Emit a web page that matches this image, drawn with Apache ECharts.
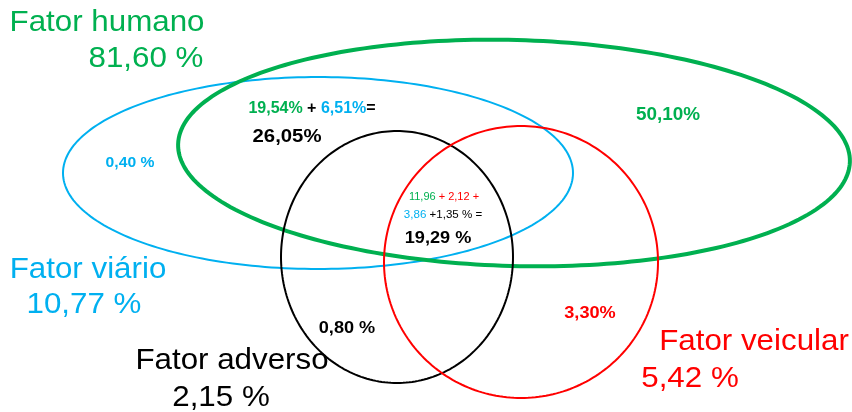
<!DOCTYPE html>
<html><head><meta charset="utf-8">
<script src="https://cdn.jsdelivr.net/npm/echarts@6/dist/echarts.min.js"></script>
<style>html,body{margin:0;padding:0;background:#fff}#c{width:852px;height:412px}</style>
</head><body><div id="c"></div><script>
// ---- data ----
const setNames  = ['Fator humano', 'Fator viário', 'Fator adverso', 'Fator veicular'];
const setTotals = ['81,60 %', '10,77 %', '2,15 %', '5,42 %'];
// ellipse geometry of each set (chart units): centre, radii, tilt in degrees
const ellipseCx  = [514, 318, 397, 521];
const ellipseCy  = [153, 173, 257, 262];
const ellipseRx  = [336, 255, 116, 137];
const ellipseRy  = [113, 96, 126, 136];
const ellipseRot = [1.5, 0, 0, 0];
// region values
const humanoOnly   = '50,10%';
const viarioOnly   = '0,40 %';
const adversoOnly  = '0,80 %';
const veicularOnly = '3,30%';
const humanoViario = ['19,54%', '6,51%', '26,05%'];
const allFactors   = ['11,96', '2,12', '3,86', '1,35 %', '19,29 %'];

// ---- styles / layout ----
const colors = ['#00B050', '#00B0F0', '#000000', '#FF0000'];
const lineW  = [4, 2, 2, 2];
const drawOrder = [1, 0, 2, 3];
const FF = '"Liberation Sans", Arial, sans-serif';

function rich(size, weight) {
  const mk = c => ({ fill: c, fontSize: size, fontWeight: weight, fontFamily: FF });
  return { g: mk(colors[0]), b: mk(colors[1]), k: mk(colors[2]), r: mk(colors[3]) };
}

const labels = [
  { x: 107, y: 23,  text: '{g|' + setNames[0] + '}',  size: 29, w: 'normal', sx: 1.08 },
  { x: 146, y: 59,  text: '{g|' + setTotals[0] + '}', size: 29, w: 'normal', sx: 1.08 },
  { x: 88,  y: 270, text: '{b|' + setNames[1] + '}',  size: 29, w: 'normal', sx: 1.08 },
  { x: 84,  y: 305, text: '{b|' + setTotals[1] + '}', size: 29, w: 'normal', sx: 1.08 },
  { x: 232, y: 361, text: '{k|' + setNames[2] + '}',  size: 29, w: 'normal', sx: 1.08 },
  { x: 221, y: 398, text: '{k|' + setTotals[2] + '}', size: 29, w: 'normal', sx: 1.08 },
  { x: 754, y: 342, text: '{r|' + setNames[3] + '}',  size: 29, w: 'normal', sx: 1.08 },
  { x: 690, y: 379, text: '{r|' + setTotals[3] + '}', size: 29, w: 'normal', sx: 1.08 },
  { x: 312, y: 109, text: '{g|' + humanoViario[0] + '}{k| + }{b|' + humanoViario[1] + '}{k|=}', size: 16, w: 'bold', sx: 1.0 },
  { x: 287, y: 137, text: '{k|' + humanoViario[2] + '}', size: 18.5, w: 'bold', sx: 1.1 },
  { x: 130, y: 163, text: '{b|' + viarioOnly + '}', size: 14, w: 'bold', sx: 1.12 },
  { x: 668, y: 115, text: '{g|' + humanoOnly + '}', size: 18, w: 'bold', sx: 1.05 },
  { x: 444, y: 197, text: '{g|' + allFactors[0] + '}{r| + ' + allFactors[1] + ' +}', size: 11, w: 'normal', sx: 1.0 },
  { x: 443, y: 215, text: '{b|' + allFactors[2] + '}{k| +' + allFactors[3] + ' =}', size: 11, w: 'normal', sx: 1.05 },
  { x: 438, y: 238, text: '{k|' + allFactors[4] + '}', size: 16.5, w: 'bold', sx: 1.1 },
  { x: 347, y: 328, text: '{k|' + adversoOnly + '}', size: 16.5, w: 'bold', sx: 1.1 },
  { x: 590, y: 313, text: '{r|' + veicularOnly + '}', size: 16.5, w: 'bold', sx: 1.1 }
];

const ellipseData = drawOrder.map(i => ({
  value: [ellipseCx[i], ellipseCy[i], ellipseRx[i], ellipseRy[i], ellipseRot[i], i]
}));

const chart = echarts.init(document.getElementById('c'));
chart.setOption({
  animation: false,
  backgroundColor: '#fff',
  grid: { left: 0, right: 0, top: 0, bottom: 0 },
  xAxis: { type: 'value', min: 0, max: 852, show: false },
  yAxis: { type: 'value', min: 0, max: 412, inverse: true, show: false },
  series: [
    {
      type: 'custom',
      clip: false,
      data: ellipseData,
      renderItem: function (params, api) {
        const cx = api.value(0), cy = api.value(1), rx = api.value(2), ry = api.value(3);
        const th = api.value(4) * Math.PI / 180;
        const idx = api.value(5);
        const pts = [];
        for (let k = 0; k < 240; k++) {
          const t = k / 240 * Math.PI * 2;
          const lx = rx * Math.cos(t), ly = ry * Math.sin(t);
          const x = cx + lx * Math.cos(th) - ly * Math.sin(th);
          const y = cy + lx * Math.sin(th) + ly * Math.cos(th);
          pts.push(api.coord([x, y]));
        }
        return {
          type: 'polygon',
          shape: { points: pts },
          style: { fill: 'none', stroke: colors[idx], lineWidth: lineW[idx] }
        };
      }
    },
    {
      type: 'custom',
      clip: false,
      data: labels.map(l => [l.x, l.y]),
      renderItem: function (params, api) {
        const L = labels[params.dataIndex];
        const p = api.coord([api.value(0), api.value(1)]);
        return {
          type: 'text',
          x: p[0], y: p[1],
          scaleX: L.sx,
          style: {
            text: L.text,
            rich: rich(L.size, L.w),
            fontSize: L.size, fontWeight: L.w, fontFamily: FF,
            align: 'center', verticalAlign: 'middle'
          }
        };
      }
    }
  ]
});
</script></body></html>
